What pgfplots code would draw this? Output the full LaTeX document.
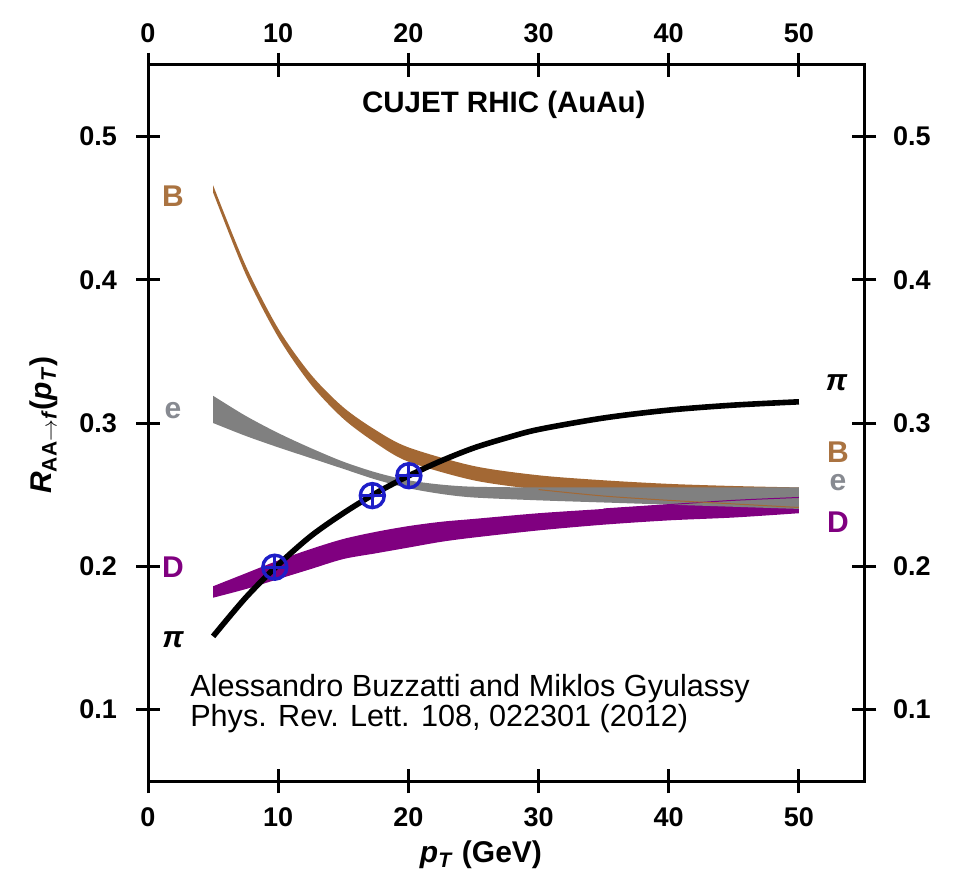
\documentclass[border=0pt]{standalone}
\usepackage{pgfplots}
\pgfplotsset{compat=1.18}
\usepgfplotslibrary{fillbetween}
\usepackage{fontspec}
\setmainfont{Liberation Sans}
\definecolor{cB}{RGB}{163,104,52}
\definecolor{cE}{RGB}{128,128,128}
\definecolor{cD}{RGB}{128,0,128}
\definecolor{cBlue}{RGB}{30,30,200}
\definecolor{cBlab}{RGB}{170,115,65}
\definecolor{cElab}{RGB}{135,138,145}
\begin{document}
\begin{tikzpicture}
\pgfplotsset{
  myaxis/.style={
    scale only axis, width=358pt, height=358pt,
    xmin=0, xmax=55, ymin=0.05, ymax=0.55,
    xtick={0,10,20,30,40,50},
    ytick={0.1,0.2,0.3,0.4,0.5},
    tick align=center, major tick length=12pt,
    axis line style={line width=1.5pt},
    tick style={black, line width=1.5pt},
    tick label style={font=\fontsize{13.5}{15}\selectfont\bfseries},
    /pgf/number format/assume math mode=true,
    clip=false,
  }
}
\begin{axis}[myaxis, name=main,
  xticklabel shift=4pt, yticklabel shift=6pt,
  ylabel={\textbf{\textit{R}}\textsubscript{\textbf{AA}$\to$\textbf{\textit{f}}}\textbf{(\textit{p}\textsubscript{\textit{T}})}},
  ylabel style={at={(axis description cs:-0.146,0.497)}, anchor=center, font=\fontsize{15}{17}\selectfont},
  xlabel={\textbf{\textit{p}\textsubscript{\textit{T}} (GeV)}},
  xlabel style={at={(axis description cs:0.465,-0.103)}, anchor=center, font=\fontsize{15}{17}\selectfont},
]
% D band
\addplot[draw=none, smooth, name path=Du] coordinates {(5,0.186)(7.5,0.195)(10,0.204)(12.5,0.212)(15,0.219)(17.5,0.224)(20,0.228)(22.5,0.231)(25,0.233)(30,0.237)(35,0.240)(40,0.243)(45,0.246)(50,0.248)};
\addplot[draw=none, smooth, name path=Dl] coordinates {(5,0.178)(7.5,0.184)(10,0.191)(12.5,0.198)(15,0.205)(17.5,0.209)(20,0.213)(22.5,0.217)(25,0.220)(30,0.225)(35,0.229)(40,0.232)(45,0.234)(50,0.237)};
\addplot[fill=cD, draw=none] fill between[of=Du and Dl];
% B band
\addplot[draw=none, smooth, name path=Bu] coordinates {(5,0.466)(7.5,0.410)(10,0.366)(12.5,0.334)(15,0.311)(17.5,0.295)(20,0.283)(25,0.270)(30,0.2635)(35,0.260)(40,0.2575)(45,0.256)(50,0.255)};
\addplot[draw=none, smooth, name path=Bl] coordinates {(5,0.461)(7.5,0.404)(10,0.360)(12.5,0.327)(15,0.303)(17.5,0.286)(20,0.273)(25,0.260)(30,0.2535)(35,0.249)(40,0.246)(45,0.2435)(50,0.241)};
\addplot[fill=cB, draw=none] fill between[of=Bu and Bl];
% e band
\addplot[draw=none, smooth, name path=Eu] coordinates {(5,0.319)(7.5,0.305)(10,0.293)(12.5,0.2825)(15,0.273)(17.5,0.2655)(20,0.260)(22.5,0.257)(25,0.2555)(30,0.255)(35,0.255)(40,0.255)(45,0.255)(50,0.255)};
\addplot[draw=none, smooth, name path=El] coordinates {(5,0.300)(7.5,0.291)(10,0.283)(12.5,0.2755)(15,0.268)(17.5,0.2605)(20,0.2545)(22.5,0.2505)(25,0.248)(30,0.246)(35,0.2445)(40,0.243)(45,0.2415)(50,0.240)};
\addplot[fill=cE, draw=none] fill between[of=Eu and El];
% thin edges over the grey band
\addplot[cD, line width=0.5pt, smooth] coordinates {(35,0.240)(40,0.243)(45,0.246)(50,0.248)};
\addplot[cB, line width=0.5pt, smooth] coordinates {(30,0.2535)(35,0.249)(40,0.246)(45,0.2435)(50,0.241)};
% pi line
\addplot[black, line width=2.8pt, smooth] coordinates {(5,0.151)(7.5,0.178)(10,0.201)(12.5,0.221)(15,0.237)(17.5,0.251)(20,0.263)(22.5,0.2735)(25,0.2825)(27.5,0.2895)(30,0.2955)(35,0.3035)(40,0.309)(45,0.3125)(50,0.3148)};
% markers
\addplot[only marks, mark=o, mark size=6pt, mark options={draw=cBlue, line width=1.7pt}] coordinates {(9.74,0.1993)(17.23,0.2493)(20.04,0.2632)};
\addplot[only marks, mark=+, mark size=6pt, mark options={draw=cBlue, line width=1.4pt}] coordinates {(9.74,0.1993)(17.23,0.2493)(20.04,0.2632)};
% labels
\node[text=cBlab, font=\fontsize{15}{17}\selectfont\bfseries] at (axis cs:1.92,0.4583) {B};
\node[text=cElab, font=\fontsize{15}{17}\selectfont\bfseries] at (axis cs:1.92,0.309) {e};
\node[text=cD, font=\fontsize{15}{17}\selectfont\bfseries] at (axis cs:1.92,0.1993) {D};
\node[text=black, font=\fontsize{15}{17}\selectfont\bfseries\itshape] at (axis cs:1.92,0.149) {π};
\node[text=black, font=\fontsize{15}{17}\selectfont\bfseries\itshape] at (axis cs:52.9,0.3278) {π};
\node[text=cBlab, font=\fontsize{15}{17}\selectfont\bfseries] at (axis cs:53.0,0.2799) {B};
\node[text=cElab, font=\fontsize{15}{17}\selectfont\bfseries] at (axis cs:53.0,0.2583) {e};
\node[text=cD, font=\fontsize{15}{17}\selectfont\bfseries] at (axis cs:53.0,0.2306) {D};
\node[font=\fontsize{14.75}{17}\selectfont\bfseries] at (axis description cs:0.497,0.945) {CUJET RHIC (AuAu)};
\node[anchor=west, font=\fontsize{15.3}{17}\selectfont, inner sep=0pt] at (axis cs:3.22,0.1146) {Alessandro Buzzatti and Miklos Gyulassy};
\node[anchor=west, font=\fontsize{15.3}{17}\selectfont, inner sep=0pt] at (axis cs:3.22,0.0938) {Phys. Rev. Lett. 108, 022301 (2012)};
\end{axis}
\begin{axis}[myaxis, at={(main.south west)}, anchor=south west,
  xticklabel pos=upper, yticklabel pos=right,
  xticklabel shift=1.5pt, yticklabel shift=5pt]
\end{axis}
\pgfresetboundingbox
\path[use as bounding box] ([shift={(-74pt,-50.5pt)}]main.south west) rectangle ([shift={(47pt,32.5pt)}]main.north east);
\end{tikzpicture}
\end{document}
